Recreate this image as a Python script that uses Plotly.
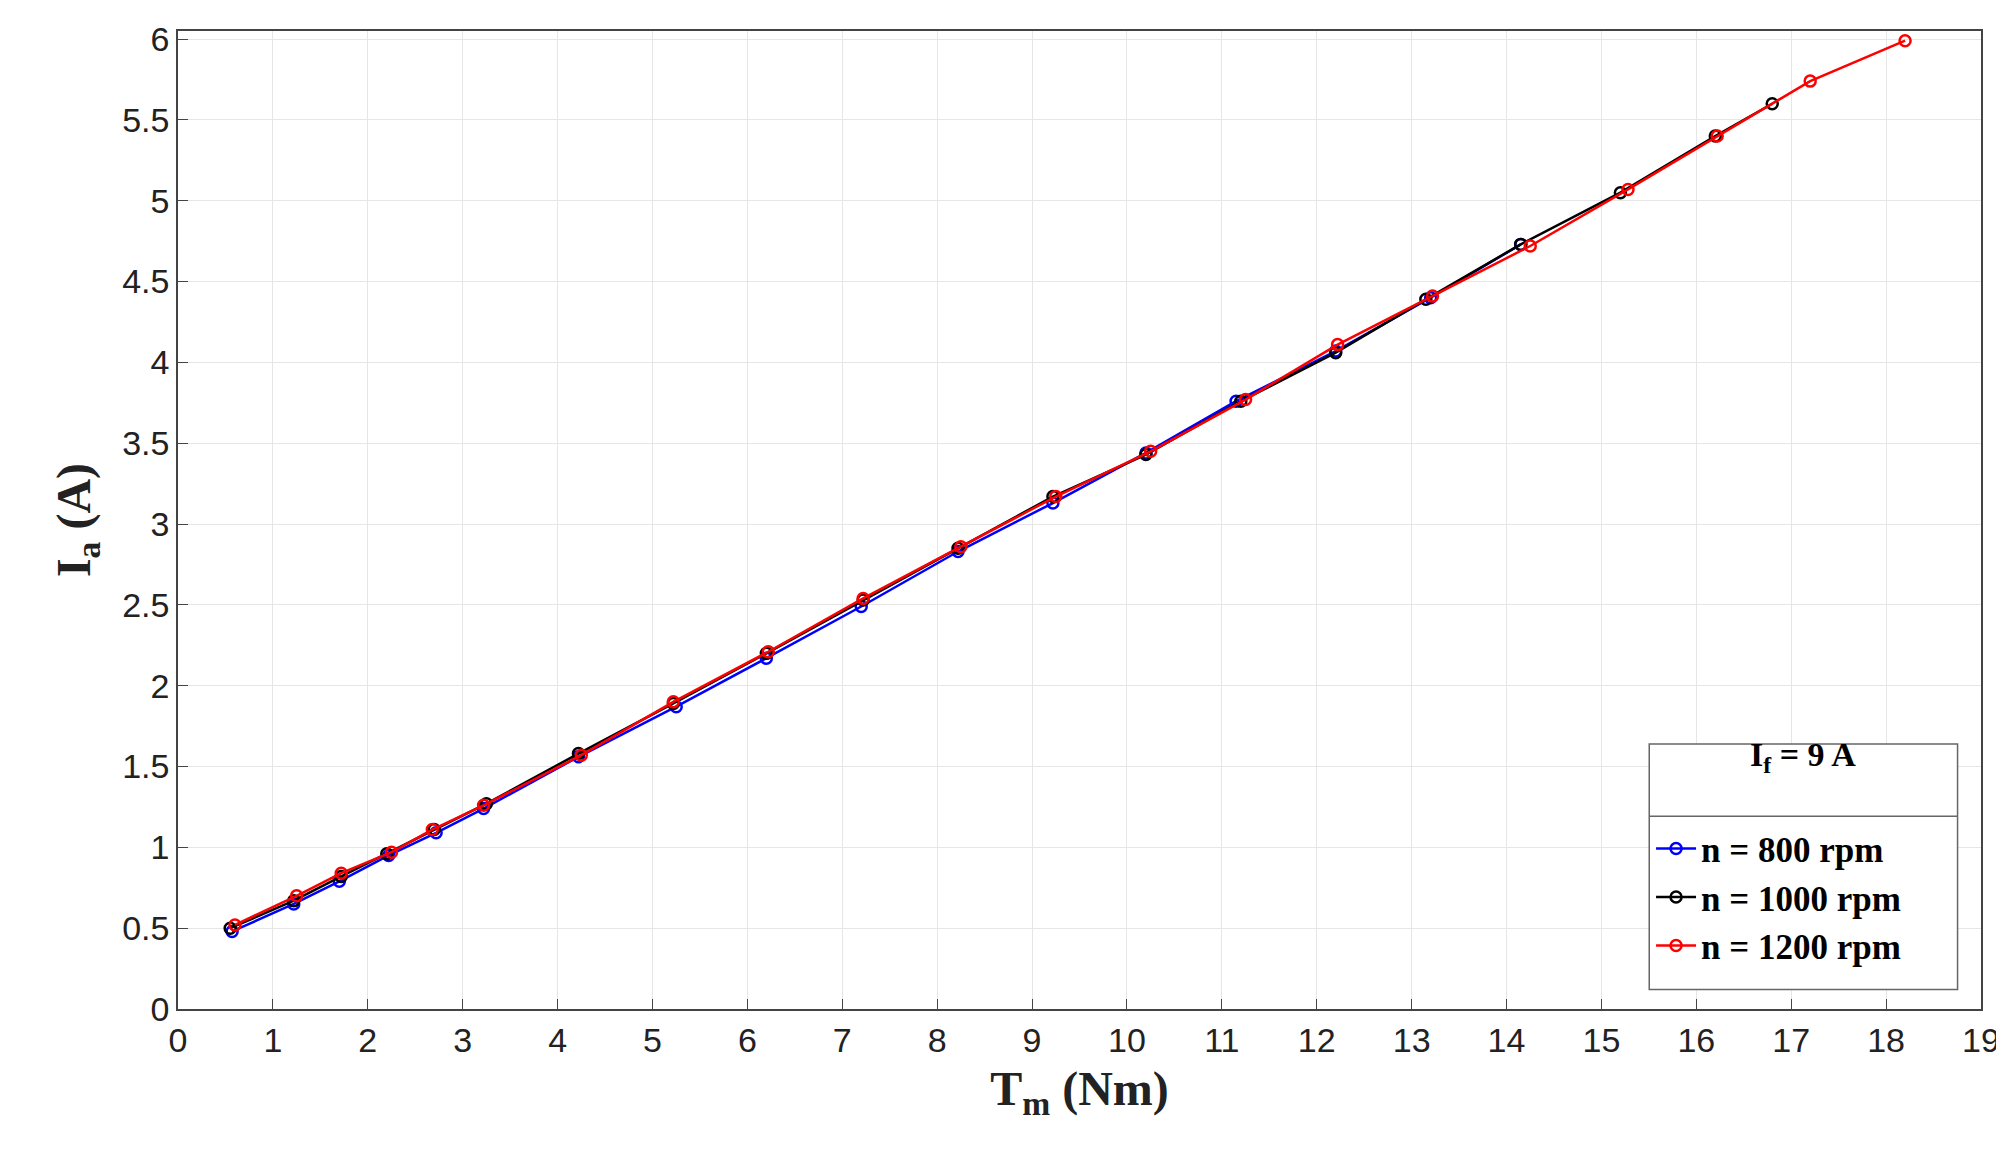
import plotly.graph_objects as go

# n = 800 rpm
tm_800 = [0.57, 1.22, 1.70, 2.22, 2.72, 3.22, 4.22, 5.25, 6.20, 7.20, 8.22, 9.22, 10.20, 11.15, 12.20, 13.20, 14.15]
ia_800 = [0.48, 0.65, 0.79, 0.95, 1.09, 1.24, 1.56, 1.87, 2.17, 2.49, 2.83, 3.13, 3.44, 3.76, 4.07, 4.40, 4.73]
# n = 1000 rpm
tm_1000 = [0.55, 1.22, 1.72, 2.20, 2.70, 3.25, 4.22, 5.22, 6.20, 7.22, 8.22, 9.22, 10.20, 11.20, 12.20, 13.15, 14.15, 15.20, 16.20, 16.80]
ia_1000 = [0.50, 0.67, 0.82, 0.96, 1.11, 1.27, 1.58, 1.89, 2.20, 2.53, 2.85, 3.17, 3.43, 3.76, 4.06, 4.39, 4.73, 5.05, 5.40, 5.60]
# n = 1200 rpm
tm_1200 = [0.60, 1.25, 1.72, 2.25, 2.68, 3.22, 4.25, 5.22, 6.22, 7.22, 8.25, 9.25, 10.25, 11.25, 12.22, 13.22, 14.25, 15.28, 16.22, 17.20, 18.20]
ia_1200 = [0.52, 0.70, 0.84, 0.97, 1.11, 1.26, 1.57, 1.90, 2.21, 2.54, 2.86, 3.17, 3.45, 3.77, 4.11, 4.41, 4.72, 5.07, 5.40, 5.74, 5.99]

series = [
    ('n = 800 rpm', tm_800, ia_800, 'blue'),
    ('n = 1000 rpm', tm_1000, ia_1000, 'black'),
    ('n = 1200 rpm', tm_1200, ia_1200, 'red'),
]

serif = 'Liberation Serif'
fig = go.Figure()
for name, x, y, color in series:
    fig.add_trace(go.Scatter(
        x=x, y=y, name=f'<b>{name}</b>', mode='lines+markers',
        line=dict(color=color, width=2.5),
        marker=dict(symbol='circle-open', size=11, color=color, line=dict(width=2.5)),
    ))

axis = dict(
    showgrid=True, gridcolor='#e6e6e6', gridwidth=1,
    showline=True, linecolor='#444', linewidth=1.5, mirror=True,
    ticks='inside', ticklen=10, tickcolor='#444',
    tickfont=dict(family='Liberation Sans', size=34, color='#222'),
    zeroline=False,
)
fig.update_xaxes(axis, range=[0, 19], dtick=1,
                 title=dict(text='<b>T<sub>m</sub> (Nm)</b>', font=dict(family=serif, size=48, color='#222'), standoff=14))
fig.update_yaxes(axis, range=[0, 6.05], tickvals=[0, 0.5, 1, 1.5, 2, 2.5, 3, 3.5, 4, 4.5, 5, 5.5, 6],
                 ticktext=['0', '0.5', '1', '1.5', '2', '2.5', '3', '3.5', '4', '4.5', '5', '5.5', '6'],
                 title=dict(text='<b>I<sub>a</sub> (A)</b>', font=dict(family=serif, size=48, color='#222'), standoff=16))

# legend box with title row
fig.add_shape(type='rect', xref='paper', yref='paper', x0=0.816, x1=0.987, y0=0.02, y1=0.271,
              line=dict(color='#666', width=1.5), fillcolor='white', layer='above')
fig.add_shape(type='line', xref='paper', yref='paper', x0=0.816, x1=0.987, y0=0.197, y1=0.197,
              line=dict(color='#666', width=1.5))
fig.add_annotation(xref='paper', yref='paper', x=0.9015, y=0.234, xanchor='center', showarrow=False,
                   text='<b>I<sub>f</sub> = 9 A</b>', font=dict(family=serif, size=34, color='black'))

fig.update_layout(
    width=2004, height=1150,
    margin=dict(l=170, r=30, t=19, b=149),
    plot_bgcolor='white', paper_bgcolor='white',
    showlegend=True,
    legend=dict(x=0.817, y=0.194, xanchor='left', yanchor='top',
                bgcolor='rgba(0,0,0,0)', borderwidth=0, itemwidth=40, tracegroupgap=0,
                font=dict(family=serif, size=35, color='black')),
)
fig.write_html('out.html')
